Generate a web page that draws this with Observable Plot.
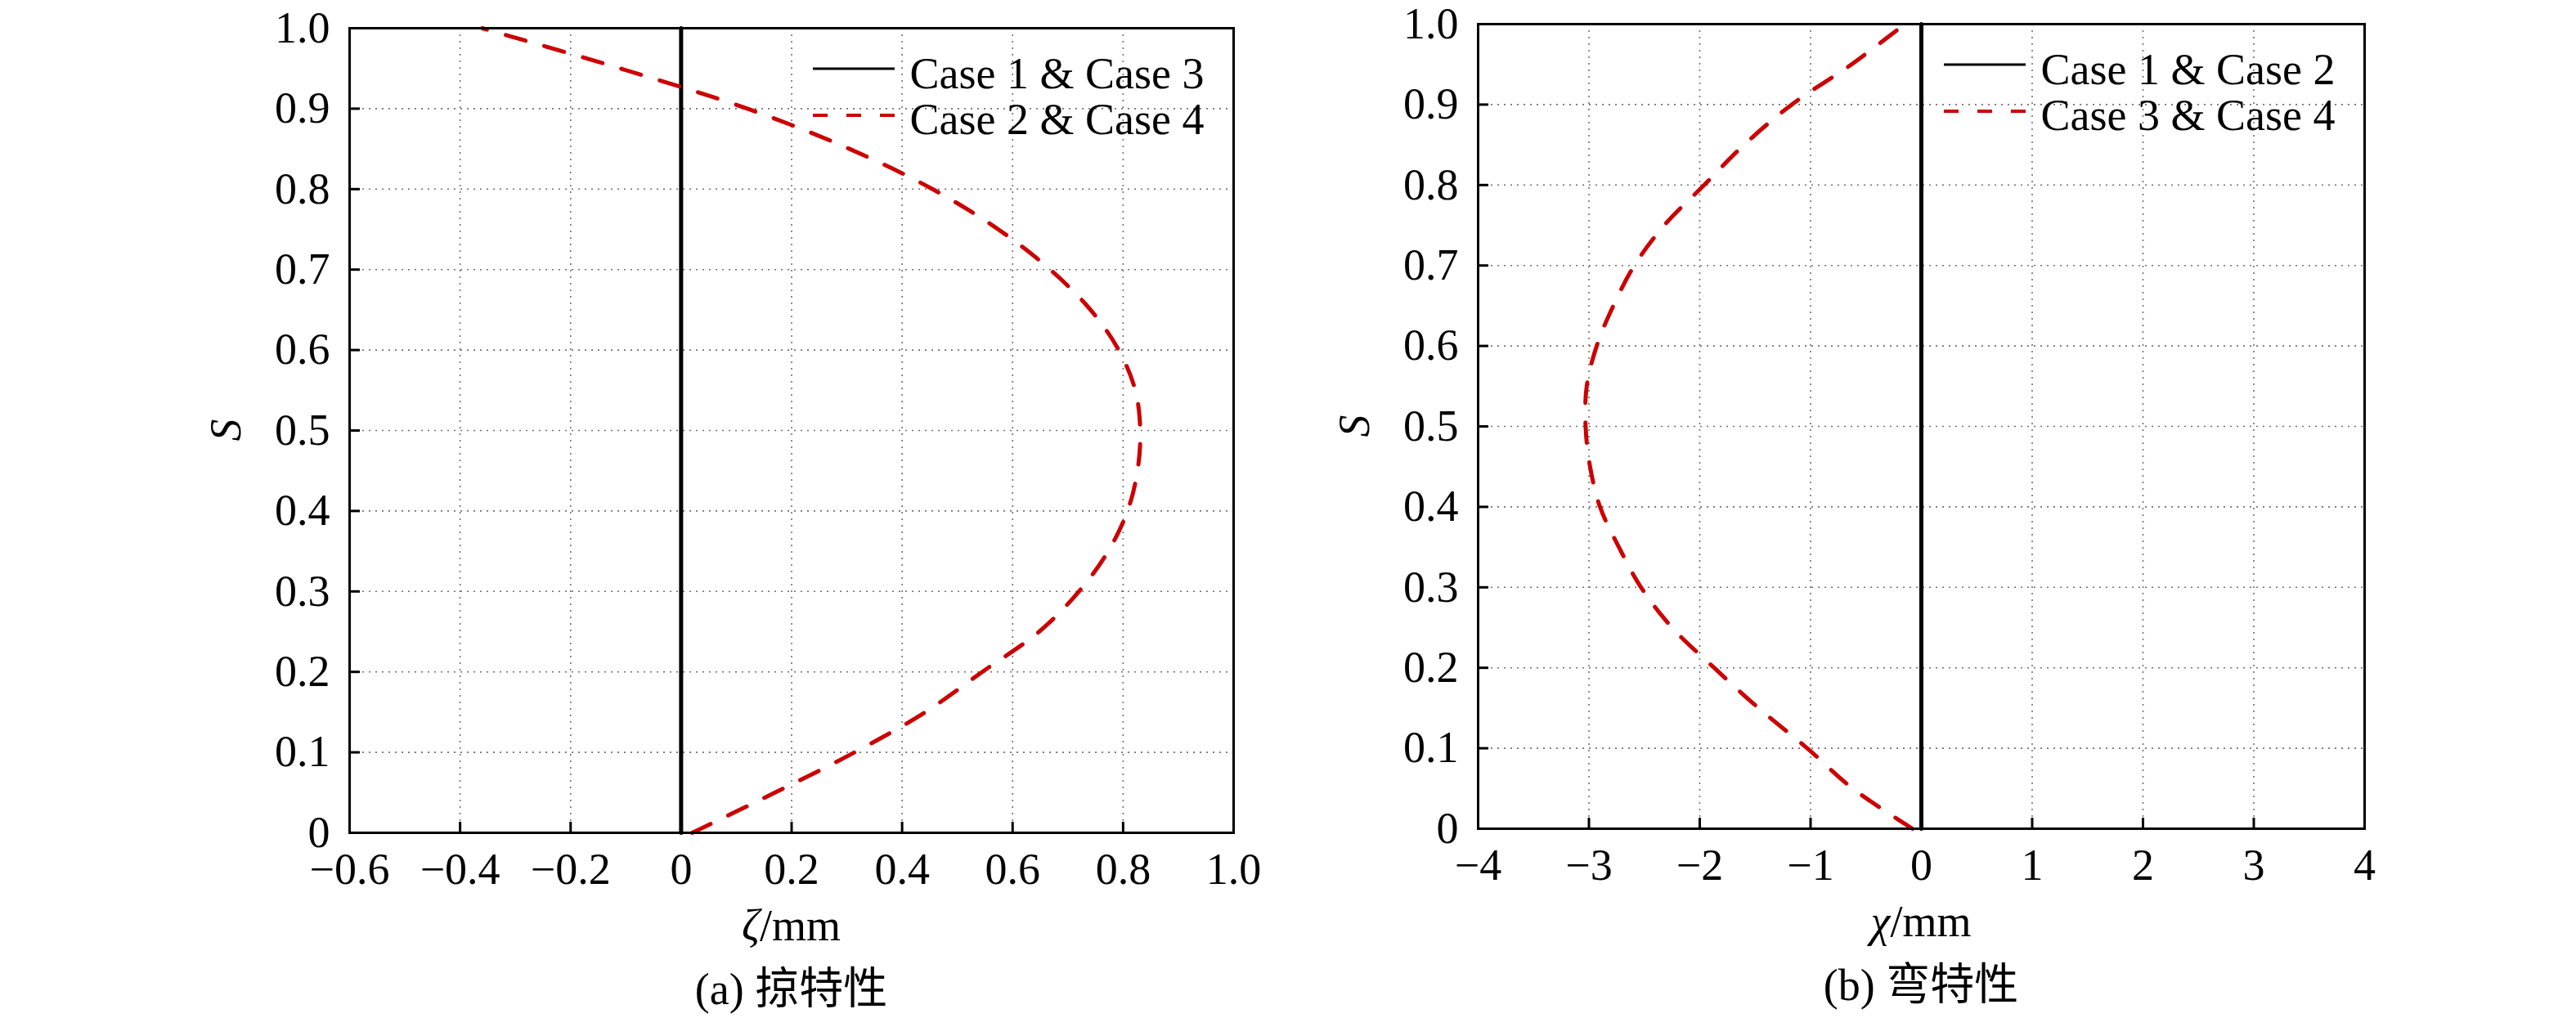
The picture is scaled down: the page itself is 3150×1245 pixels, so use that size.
<!DOCTYPE html>
<html><head><meta charset="utf-8">
<script src="https://cdn.jsdelivr.net/npm/d3@7"></script>
<script src="https://cdn.jsdelivr.net/npm/@observablehq/plot@0.6"></script>
<style>
html,body{margin:0;padding:0;background:#fff;}
#wrap{position:relative;width:3150px;height:1245px;overflow:hidden;font-family:"Liberation Serif","Times New Roman",serif;}
.panel{position:absolute;top:0;}
.lbl{position:absolute;transform:translate(-50%,-50%);font-size:54px;line-height:1;white-space:nowrap;color:#000;font-family:"Liberation Serif","Noto Sans CJK SC",serif;}
.rot{transform:translate(-50%,-50%) rotate(-90deg);}
</style></head><body><div id="wrap"></div>
<script>
// ---- data ----
const sValues   = [0, 0.05, 0.1, 0.15, 0.2, 0.25, 0.3, 0.35, 0.4, 0.45, 0.5, 0.55, 0.6, 0.65, 0.7, 0.75, 0.8, 0.85, 0.9, 0.95, 1.0];
const zetaValues = [0.02, 0.17, 0.314, 0.442, 0.545, 0.648, 0.72, 0.773, 0.808, 0.826, 0.831, 0.822, 0.792, 0.741, 0.668, 0.574, 0.455, 0.305, 0.12, -0.11, -0.36];
const chiValues  = [-0.08, -0.62, -1.03, -1.47, -1.87, -2.25, -2.53, -2.73, -2.90, -2.99, -3.03, -3.02, -2.93, -2.78, -2.59, -2.32, -1.96, -1.60, -1.17, -0.63, -0.15];
const zeroLineX = [0, 0];
const zeroLineS = [0, 1];
const zetaTicks = [-0.6, -0.4, -0.2, 0, 0.2, 0.4, 0.6, 0.8, 1.0];
const chiTicks  = [-4, -3, -2, -1, 0, 1, 2, 3, 4];
const sTicks    = [0, 0.1, 0.2, 0.3, 0.4, 0.5, 0.6, 0.7, 0.8, 0.9, 1.0];
const legendA   = ["Case 1 & Case 3", "Case 2 & Case 4"];
const legendB   = ["Case 1 & Case 2", "Case 3 & Case 4"];
const xLabels   = ["ζ", "χ"];
const captions  = ["(a) 掠特性", "(b) 弯特性"];

const minus = s => s.replace("-", "\u2212");
const yFmt = d => d === 0 ? "0" : d.toFixed(1);
const zetaFmt = d => d === 0 ? "0" : minus(d.toFixed(1));
const chiFmt = d => minus(String(d));

const wrap = document.getElementById("wrap");

function panel({left, mTop, mLeft, mRight, mBottom, H, xDomain, xTicks, xFmt, curveX, legend, xLab, caption}) {
  const W = 1575;
  const plotH = H - mTop - mBottom;
  const plotW = W - mLeft - mRight;
  const curveData = sValues.map((s, i) => ({s, v: curveX[i]}));
  const zeroData = zeroLineS.map((s, i) => ({s, v: zeroLineX[i]}));
  const gridStyle = {stroke: "#707070", strokeOpacity: 1, strokeWidth: 1.6, strokeDasharray: "2,6"};
  const svg = Plot.plot({
    width: W, height: H,
    marginTop: mTop, marginLeft: mLeft, marginRight: mRight, marginBottom: mBottom,
    style: {fontFamily: '"Liberation Serif", "Times New Roman", serif', fontSize: "54px", background: "transparent", overflow: "visible", color: "black"},
    x: {domain: xDomain},
    y: {domain: [0, 1]},
    marks: [
      Plot.gridX(xTicks, gridStyle),
      Plot.gridY(sTicks, gridStyle),
      Plot.line(zeroData, {x: "v", y: "s", stroke: "black", strokeWidth: 5}),
      Plot.line(curveData, {x: "v", y: "s", curve: "catmull-rom", stroke: "#cc0000", strokeWidth: 5, strokeDasharray: "25,24"}),
      Plot.tickX(xTicks, {x: d => d, insetTop: plotH - 13, stroke: "black", strokeWidth: 3}),
      Plot.tickY(sTicks, {y: d => d, insetRight: plotW - 13, stroke: "black", strokeWidth: 3}),
      Plot.frame({stroke: "black", strokeWidth: 3}),
      Plot.axisX(xTicks, {tickSize: 0, tickPadding: 24, tickFormat: xFmt, label: null}),
      Plot.axisY(sTicks, {tickSize: 0, tickPadding: 24, tickFormat: yFmt, label: null}),
      Plot.text([legend[0]], {text: d => d, frameAnchor: "top-right", dx: -396, dy: 56, textAnchor: "start", lineAnchor: "middle", fill: "black"}),
      Plot.text([legend[1]], {text: d => d, frameAnchor: "top-right", dx: -396, dy: 112, textAnchor: "start", lineAnchor: "middle", fill: "black"})
    ]
  });
  const g = d3.select(svg).append("g");
  const lx1 = mLeft + plotW - 514, lx2 = mLeft + plotW - 414;
  g.append("line").attr("x1", lx1).attr("x2", lx2).attr("y1", mTop + 50).attr("y2", mTop + 50)
    .attr("stroke", "black").attr("stroke-width", 3);
  g.append("line").attr("x1", lx1).attr("x2", lx2).attr("y1", mTop + 107).attr("y2", mTop + 107)
    .attr("stroke", "#cc0000").attr("stroke-width", 4).attr("stroke-dasharray", "18,23");
  const div = document.createElement("div");
  div.className = "panel";
  div.style.left = left + "px";
  div.appendChild(svg);
  wrap.appendChild(div);

  const cx = left + mLeft + plotW / 2;
  const cy = mTop + plotH / 2;
  const addLbl = (html, x, y, cls) => {
    const d = document.createElement("div");
    d.className = "lbl" + (cls ? " " + cls : "");
    d.innerHTML = html;
    d.style.left = x + "px";
    d.style.top = y + "px";
    wrap.appendChild(d);
  };
  addLbl("<i>S</i>", left + mLeft - 151, cy, "rot");
  addLbl("<i>" + xLab + "</i>/mm", cx, mTop + plotH + 114);
  addLbl(caption, cx, mTop + plotH + 192);
}

panel({left: 0, mTop: 34, mLeft: 427, mRight: 67, mBottom: 82, H: 1100,
  xDomain: [-0.6, 1.0], xTicks: zetaTicks, xFmt: zetaFmt, curveX: zetaValues, legend: legendA, xLab: xLabels[0], caption: captions[0]});
panel({left: 1575, mTop: 29, mLeft: 232, mRight: 259, mBottom: 87, H: 1100,
  xDomain: [-4, 4], xTicks: chiTicks, xFmt: chiFmt, curveX: chiValues, legend: legendB, xLab: xLabels[1], caption: captions[1]});
</script>
</body></html>
